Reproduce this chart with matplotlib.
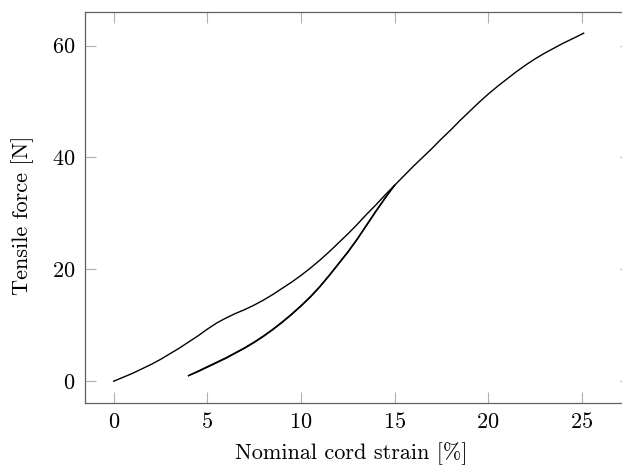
import matplotlib
matplotlib.use('Agg')
import matplotlib.pyplot as plt

# Loading curve (first load up to 15 %, then further to 25 %)
load_x = [0, 0.5, 1, 1.5, 2, 2.5, 3, 3.5, 4, 4.5, 5, 5.5, 6, 6.5, 7, 7.5, 8, 8.5, 9, 9.5,
          10, 10.5, 11, 11.5, 12, 12.5, 13, 13.5, 14, 14.5, 15, 15.5, 16, 16.5, 17, 17.5,
          18, 18.5, 19, 19.5, 20, 20.5, 21, 21.5, 22, 22.5, 23, 23.5, 24, 24.5, 25.1]
load_y = [0, 0.7, 1.4, 2.2, 3.0, 3.9, 4.9, 5.9, 7.0, 8.1, 9.3, 10.4, 11.3, 12.1, 12.8, 13.6,
          14.5, 15.5, 16.6, 17.7, 18.9, 20.2, 21.6, 23.1, 24.7, 26.3, 28.0, 29.8, 31.5, 33.3,
          35.0, 36.7, 38.4, 40.0, 41.6, 43.3, 44.9, 46.6, 48.2, 49.8, 51.3, 52.7, 54.0, 55.3,
          56.5, 57.6, 58.6, 59.5, 60.4, 61.2, 62.2]

# Unloading from 15 % back to 4 %
unload_x = [15, 14.5, 14, 13.5, 13, 12.5, 12, 11.5, 11, 10.5, 10, 9.5, 9, 8.5, 8,
            7.5, 7, 6.5, 6, 5.5, 5, 4.5, 4]
unload_y = [35.0, 32.7, 30.3, 27.8, 25.3, 23.0, 20.9, 18.8, 16.8, 15.0, 13.4, 11.9, 10.5, 9.2, 8.0,
            6.9, 5.9, 5.0, 4.1, 3.3, 2.5, 1.7, 1.0]

# Reloading from 4 % up to 15 %
reload_x = [4, 4.5, 5, 5.5, 6, 6.5, 7, 7.5, 8, 8.5, 9, 9.5, 10, 10.5, 11, 11.5, 12,
            12.5, 13, 13.5, 14, 14.5, 15]
reload_y = [1.0, 1.8, 2.6, 3.4, 4.2, 5.1, 6.0, 7.0, 8.1, 9.3, 10.6, 12.0, 13.5, 15.1, 16.9, 18.9, 21.0,
            23.1, 25.4, 27.9, 30.4, 32.8, 35.0]

plt.rcParams['font.family'] = 'cmr10'
plt.rcParams['mathtext.fontset'] = 'cm'
plt.rcParams['axes.formatter.use_mathtext'] = True

fig = plt.figure(figsize=(6.22, 4.65), dpi=100)
# right spine sits just outside the picture, as in the reference
ax = fig.add_axes([85 / 622, 62.5 / 465, 546 / 622, 390 / 465])

ax.plot(load_x, load_y, color='black', lw=1.0)
ax.plot(unload_x, unload_y, color='black', lw=1.0)
ax.plot(reload_x, reload_y, color='black', lw=1.0)

ax.set_xlim(-1.53, 27.63)
ax.set_ylim(-3.8, 65.9)
ax.set_xticks([0, 5, 10, 15, 20, 25])
ax.set_yticks([0, 20, 40, 60])

ax.tick_params(direction='in', length=7.6, width=0.8, color='#b0b0b0',
               top=True, right=True, labelsize=16, pad=7.0)
for s in ax.spines.values():
    s.set_color('#606060')
    s.set_linewidth(0.9)
ax.spines['right'].set_visible(False)

ax.set_xlabel('Nominal cord strain [%]', fontsize=16)
ax.set_ylabel('Tensile force [N]', fontsize=16)
ax.xaxis.set_label_coords(0.487, -0.103)
ax.yaxis.set_label_coords(-0.093, 0.479)

fig.savefig('out.png', dpi=100)
